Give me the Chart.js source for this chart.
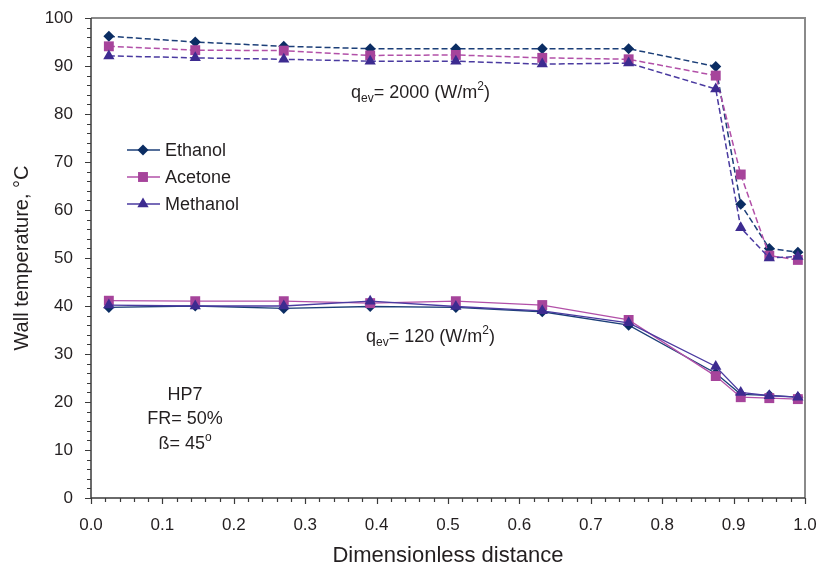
<!DOCTYPE html>
<html>
<head>
<meta charset="utf-8">
<script src="https://cdn.jsdelivr.net/npm/chart.js@4/dist/chart.umd.min.js"></script>
<style>
  html, body { margin: 0; padding: 0; background: #fff; }
  #wrap { width: 817px; height: 569px; }
</style>
</head>
<body>
<div id="wrap"><canvas id="wallChart" width="817" height="569"></canvas></div>
<script>
// valores
const distance = [0.025, 0.146, 0.27, 0.391, 0.511, 0.632, 0.753, 0.875, 0.91, 0.95, 0.99];

const ethanolHigh  = [96.2, 95.0, 94.1, 93.6, 93.6, 93.6, 93.6, 89.9, 61.2, 52.0, 51.2];
const acetoneHigh  = [94.1, 93.3, 93.2, 92.2, 92.3, 91.7, 91.4, 88.0, 67.4, 50.5, 49.6];
const methanolHigh = [92.1, 91.7, 91.4, 91.0, 91.0, 90.4, 90.6, 85.2, 56.3, 50.0, 50.3];

const ethanolLow  = [39.7, 40.0, 39.5, 39.9, 39.7, 38.8, 36.0, 26.0, 21.6, 21.4, 21.0];
const acetoneLow  = [41.1, 41.0, 41.0, 40.6, 41.0, 40.2, 37.1, 25.4, 21.0, 20.8, 20.6];
const methanolLow = [40.2, 40.0, 40.0, 41.0, 39.9, 39.0, 36.5, 27.4, 22.0, 21.3, 21.0];

const fluidNames = ["Ethanol", "Acetone", "Methanol"];
const xTicks = [0, 0.1, 0.2, 0.3, 0.4, 0.5, 0.6, 0.7, 0.8, 0.9, 1.0];
const yTicks = [0, 10, 20, 30, 40, 50, 60, 70, 80, 90, 100];

const FONT = '"Liberation Sans", Arial, sans-serif';
const TEXT = "#231f20";

const styles = [
    { line: "#1c3f78", fill: "#0b2d63", shape: "rectRot", r: 5.5 },
    { line: "#b250a8", fill: "#a6449b", shape: "rect", r: 7 },
    { line: "#4a3aa0", fill: "#3d2b90", shape: "triangle", r: 6.5 }
];

function toPoints(vals) {
    return vals.map((v, i) => ({ x: distance[i], y: v }));
}

function makeSet(label, vals, s, dashed, order) {
    return {
        label: label,
        data: toPoints(vals),
        borderColor: s.line,
        backgroundColor: s.fill,
        pointBackgroundColor: s.fill,
        pointBorderColor: s.fill,
        pointBorderWidth: 0,
        pointStyle: s.shape,
        pointRadius: s.r,
        borderWidth: dashed ? 1.5 : 1.3,
        borderDash: dashed ? [6, 3] : [],
        tension: 0,
        order: order,
        fill: false
    };
}

const highSets = [ethanolHigh, acetoneHigh, methanolHigh];
const lowSets = [ethanolLow, acetoneLow, methanolLow];
const datasets = [];
fluidNames.forEach((name, i) => {
    datasets.push(makeSet(name, highSets[i], styles[i], true, 2 - i));
    datasets.push(makeSet(name, lowSets[i], styles[i], false, 2 - i));
});

// texto con subíndices y superíndices
function richText(ctx, parts, x, y, align) {
    const size = p => (p[1] === "n" ? 18 : 12);
    let w = 0;
    parts.forEach(p => {
        ctx.font = size(p) + "px " + FONT;
        w += ctx.measureText(p[0]).width;
    });
    let cx = align === "center" ? x - w / 2 : x;
    parts.forEach(p => {
        ctx.font = size(p) + "px " + FONT;
        const dy = p[1] === "sub" ? 4 : (p[1] === "sup" ? -8 : 0);
        ctx.fillText(p[0], cx, y + dy);
        cx += ctx.measureText(p[0]).width;
    });
}

const framePlugin = {
    id: "frame",
    beforeDatasetsDraw(chart) {
        const { ctx, chartArea: a, scales } = chart;
        ctx.save();
        ctx.strokeStyle = "#8a8a8a";
        ctx.lineWidth = 2;
        ctx.beginPath();
        ctx.moveTo(a.left, a.top);
        ctx.lineTo(a.right, a.top);
        ctx.lineTo(a.right, a.bottom);
        ctx.stroke();

        ctx.strokeStyle = "#3a3a3a";
        ctx.lineWidth = 1.5;
        ctx.beginPath();
        ctx.moveTo(a.left, a.top);
        ctx.lineTo(a.left, a.bottom);
        ctx.lineTo(a.right, a.bottom);
        ctx.stroke();

        // marcas del eje x
        ctx.lineWidth = 1.2;
        ctx.beginPath();
        for (let k = 0; k <= 50; k++) {
            const px = Math.round(scales.x.getPixelForValue(k * 0.02)) + 0.5;
            const len = k % 5 === 0 ? 6 : 4;
            ctx.moveTo(px, a.bottom);
            ctx.lineTo(px, a.bottom + len);
        }
        // marcas del eje y
        for (let k = 0; k <= 50; k++) {
            const py = Math.round(scales.y.getPixelForValue(k * 2)) + 0.5;
            const len = k % 5 === 0 ? 6 : 4;
            ctx.moveTo(a.left, py);
            ctx.lineTo(a.left - len, py);
        }
        ctx.stroke();
        ctx.restore();
    },
    afterDraw(chart) {
        const { ctx } = chart;
        ctx.save();
        ctx.fillStyle = TEXT;
        ctx.textBaseline = "alphabetic";
        ctx.textAlign = "left";

        richText(ctx, [["q", "n"], ["ev", "sub"], ["= 2000 (W/m", "n"], ["2", "sup"], [")", "n"]], 351, 98, "left");
        richText(ctx, [["q", "n"], ["ev", "sub"], ["= 120 (W/m", "n"], ["2", "sup"], [")", "n"]], 366, 342, "left");

        richText(ctx, [["HP7", "n"]], 185, 400, "center");
        richText(ctx, [["FR= 50%", "n"]], 185, 424, "center");
        richText(ctx, [["ß= 45", "n"], ["o", "sup"]], 185, 449, "center");

        // leyenda
        const rows = [150, 177, 204];
        fluidNames.forEach((name, i) => {
            const s = styles[i];
            const y = rows[i];
            ctx.strokeStyle = s.line;
            ctx.lineWidth = 1.3;
            ctx.setLineDash([]);
            ctx.beginPath();
            ctx.moveTo(127, y);
            ctx.lineTo(160, y);
            ctx.stroke();
            ctx.fillStyle = s.fill;
            ctx.strokeStyle = s.fill;
            Chart.helpers.drawPoint(ctx, { pointStyle: s.shape, radius: s.r, borderWidth: 0 }, 143, y);
            ctx.fillStyle = TEXT;
            ctx.font = "18px " + FONT;
            ctx.textBaseline = "middle";
            ctx.fillText(name, 165, y + 1);
            ctx.textBaseline = "alphabetic";
        });
        ctx.restore();
    }
};

document.addEventListener("DOMContentLoaded", () => {
    const canvas = document.getElementById("wallChart");

    new Chart(canvas.getContext("2d"), {
        type: "line",
        data: { datasets: datasets },
        plugins: [framePlugin],
        options: {
            responsive: false,
            animation: false,
            layout: { padding: { top: 18, right: 12, left: 0, bottom: 0 } },
            plugins: {
                legend: { display: false },
                tooltip: { enabled: false }
            },
            scales: {
                x: {
                    type: "linear",
                    min: 0,
                    max: 1,
                    afterFit: s => { s.height = 71; s.paddingLeft = 0; s.paddingRight = 0; },
                    afterBuildTicks: s => { s.ticks = xTicks.map(v => ({ value: v })); },
                    grid: { display: false, drawTicks: false },
                    border: { display: false },
                    ticks: {
                        padding: 17,
                        color: TEXT,
                        font: { family: FONT, size: 17 },
                        callback: v => v.toFixed(1)
                    },
                    title: {
                        display: true,
                        text: "Dimensionless distance",
                        color: TEXT,
                        font: { family: FONT, size: 22 },
                        padding: { top: 0, bottom: 0 }
                    }
                },
                y: {
                    min: 0,
                    max: 100,
                    afterFit: s => { s.width = 91; s.paddingTop = 0; s.paddingBottom = 0; },
                    afterBuildTicks: s => { s.ticks = yTicks.map(v => ({ value: v })); },
                    grid: { display: false, drawTicks: false },
                    border: { display: false },
                    ticks: {
                        padding: 18,
                        color: TEXT,
                        font: { family: FONT, size: 17 },
                        callback: v => String(v)
                    },
                    title: {
                        display: true,
                        text: "Wall temperature, °C",
                        color: TEXT,
                        font: { family: FONT, size: 20 },
                        padding: { top: 10, bottom: 0 }
                    }
                }
            }
        }
    });
});
</script>
</body>
</html>
